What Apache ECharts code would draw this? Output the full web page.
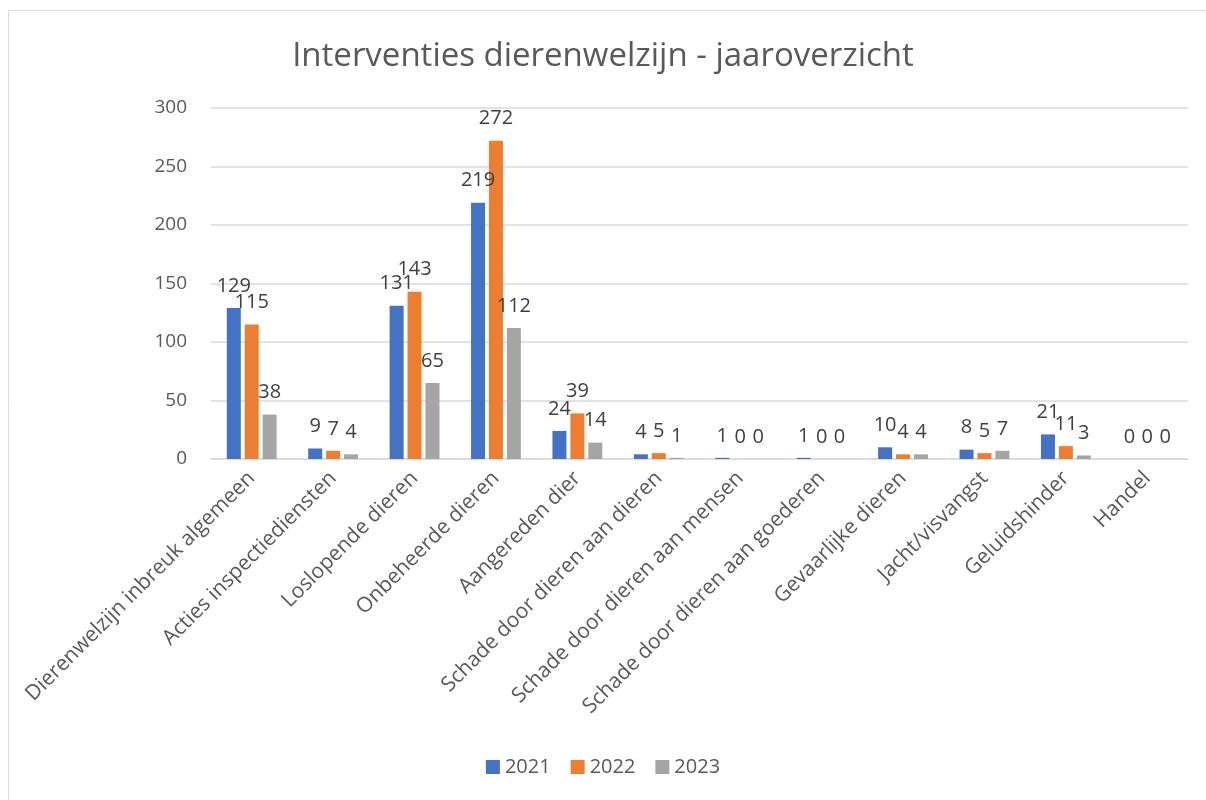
<!DOCTYPE html>
<html><head><meta charset="utf-8">
<script src="https://cdn.jsdelivr.net/npm/echarts@6/dist/echarts.min.js"></script>
<style>html,body{margin:0;padding:0;background:#fff}#c{width:1206px;height:800px}</style>
</head><body><div id="c"></div>
<script>
const categories = ["Dierenwelzijn inbreuk algemeen","Acties inspectiediensten","Loslopende dieren","Onbeheerde dieren","Aangereden dier","Schade door dieren aan dieren","Schade door dieren aan mensen","Schade door dieren aan goederen","Gevaarlijke dieren","Jacht/visvangst","Geluidshinder","Handel"];
const y2021 = [129, 9, 131, 219, 24, 4, 1, 1, 10, 8, 21, 0];
const y2022 = [115, 7, 143, 272, 39, 5, 0, 0, 4, 5, 11, 0];
const y2023 = [38, 4, 65, 112, 14, 1, 0, 0, 4, 7, 3, 0];
const seriesNames = ["2021","2022","2023"];
const colors = ["#4472C4","#ED7D31","#A5A5A5"];
const FONT = "Open Sans";
const chart = echarts.init(document.getElementById('c'));
const mk = (name, data, color) => ({
  name, type: 'bar', data, barWidth: 14, barGap: '28%',
  itemStyle: {color},
  label: {show: true, position: 'top', distance: 12, color: '#404040', fontSize: 20, fontFamily: FONT}
});
chart.setOption({
  animation: false,
  textStyle: {fontFamily: FONT},
  graphic: [{type: 'rect', shape: {x: 8.5, y: 10.5, width: 1400, height: 1000}, style: {fill: 'none', stroke: '#d9d9d9', lineWidth: 1}, silent: true}],
  title: {text: 'Interventies dierenwelzijn - jaaroverzicht', left: 'center', top: 35,
    textStyle: {fontFamily: FONT, fontSize: 33, fontWeight: 'normal', color: '#595959'}},
  legend: {bottom: 18, left: 'center', itemWidth: 14, itemHeight: 14, itemGap: 20, icon: 'rect',
    textStyle: {fontFamily: FONT, fontSize: 20, color: '#595959'}},
  grid: {left: 211, right: 18, top: 108, bottom: 341, containLabel: false},
  xAxis: {type: 'category', data: categories,
    axisLine: {lineStyle: {color: '#d9d9d9', width: 1.5}}, axisTick: {show: false},
    axisLabel: {interval: 0, rotate: 45, fontSize: 21, color: '#595959', fontFamily: FONT, margin: 16}},
  yAxis: {type: 'value', min: 0, max: 300, interval: 50,
    axisLine: {show: false}, axisTick: {show: false},
    splitLine: {lineStyle: {color: '#d9d9d9', width: 1.5}},
    axisLabel: {fontSize: 19, color: '#595959', fontFamily: FONT, margin: 24}},
  series: [mk(seriesNames[0], y2021, colors[0]), mk(seriesNames[1], y2022, colors[1]), mk(seriesNames[2], y2023, colors[2])]
});
</script></body></html>
